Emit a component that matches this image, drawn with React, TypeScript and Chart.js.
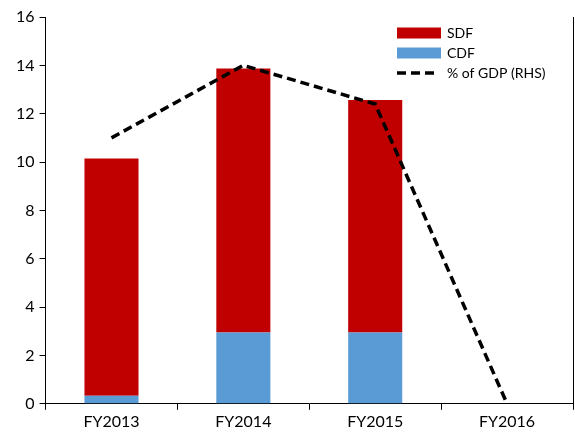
import React, { useEffect, useRef } from 'react';
import { Chart, registerables } from 'chart.js';

Chart.register(...registerables);

const categories = ['FY2013', 'FY2014', 'FY2015', 'FY2016'];
const cdfValues = [0.33, 2.95, 2.95, 0];
const sdfValues = [9.82, 10.92, 9.62, 0];
const gdpShareValues = [11.0, 14.0, 12.4, 0];
const leftAxisMin = 0;
const leftAxisMax = 16;
const leftAxisStep = 2;

const FONT = 'Lato, "Open Sans", sans-serif';

const legendPlugin = {
  id: 'insideLegend',
  afterDraw(chart: any) {
    const { ctx, chartArea } = chart;
    const x0 = chartArea.right - 176;
    const y0 = chartArea.top + 10;
    const items = [
      { label: 'SDF', kind: 'box', color: '#C00000' },
      { label: 'CDF', kind: 'box', color: '#5B9BD5' },
      { label: '% of GDP (RHS)', kind: 'dash', color: '#000000' },
    ];
    ctx.save();
    ctx.font = '14px ' + FONT;
    ctx.textBaseline = 'middle';
    ctx.fillStyle = '#000';
    items.forEach((it, i) => {
      const cy = y0 + 6 + i * 20;
      if (it.kind === 'box') {
        ctx.fillStyle = it.color;
        ctx.fillRect(x0, cy - 5.5, 44, 11);
      } else {
        ctx.strokeStyle = it.color;
        ctx.lineWidth = 3.5;
        ctx.setLineDash([9, 5]);
        ctx.beginPath();
        ctx.moveTo(x0, cy);
        ctx.lineTo(x0 + 42, cy);
        ctx.stroke();
        ctx.setLineDash([]);
      }
      ctx.fillStyle = '#000';
      ctx.fillText(it.label, x0 + 50, cy);
    });
    ctx.restore();
  },
};

export default function App() {
  const ref = useRef<HTMLCanvasElement | null>(null);
  useEffect(() => {
    if (!ref.current) return;
    const chart = new Chart(ref.current, {
      type: 'bar',
      data: {
        labels: categories,
        datasets: [
          {
            type: 'line',
            label: '% of GDP (RHS)',
            data: gdpShareValues,
            yAxisID: 'y1',
            borderColor: '#000',
            borderWidth: 3.5,
            borderDash: [9, 5],
            pointRadius: 0,
            tension: 0,
            fill: false,
            order: 0,
          } as any,
          {
            label: 'CDF',
            data: cdfValues,
            backgroundColor: '#5B9BD5',
            stack: 's',
            order: 1,
            categoryPercentage: 1,
            barPercentage: 0.41,
          },
          {
            label: 'SDF',
            data: sdfValues,
            backgroundColor: '#C00000',
            stack: 's',
            order: 2,
            categoryPercentage: 1,
            barPercentage: 0.41,
          },
        ],
      },
      options: {
        animation: false,
        responsive: false,
        maintainAspectRatio: false,
        layout: { padding: { left: 11, right: 2, top: 17, bottom: 1 } },
        plugins: { legend: { display: false }, tooltip: { enabled: false } },
        scales: {
          x: {
            stacked: true,
            grid: { display: true, drawOnChartArea: false, color: '#000', tickLength: 6, offset: true },
            border: { display: true, color: '#000', width: 1 },
            ticks: { color: '#000', font: { family: FONT, size: 16 }, padding: 2 },
          },
          y: {
            stacked: true,
            min: leftAxisMin,
            max: leftAxisMax,
            ticks: { stepSize: leftAxisStep, color: '#000', font: { family: FONT, size: 16 }, padding: 5 },
            grid: { display: true, drawOnChartArea: false, color: '#000', tickLength: 6 },
            border: { display: true, color: '#000', width: 1 },
          },
          y1: {
            position: 'right',
            min: leftAxisMin,
            max: leftAxisMax,
            ticks: { display: false },
            grid: { display: false, drawTicks: false },
            border: { display: true, color: '#000', width: 1 },
          },
        },
      },
      plugins: [legendPlugin],
    });
    return () => chart.destroy();
  }, []);
  return (
    <div style={{ position: 'fixed', left: 0, top: 0, width: 575, height: 434, background: '#fff' }}>
      <canvas ref={ref} width={575} height={434} style={{ width: 575, height: 434 }} />
    </div>
  );
}
